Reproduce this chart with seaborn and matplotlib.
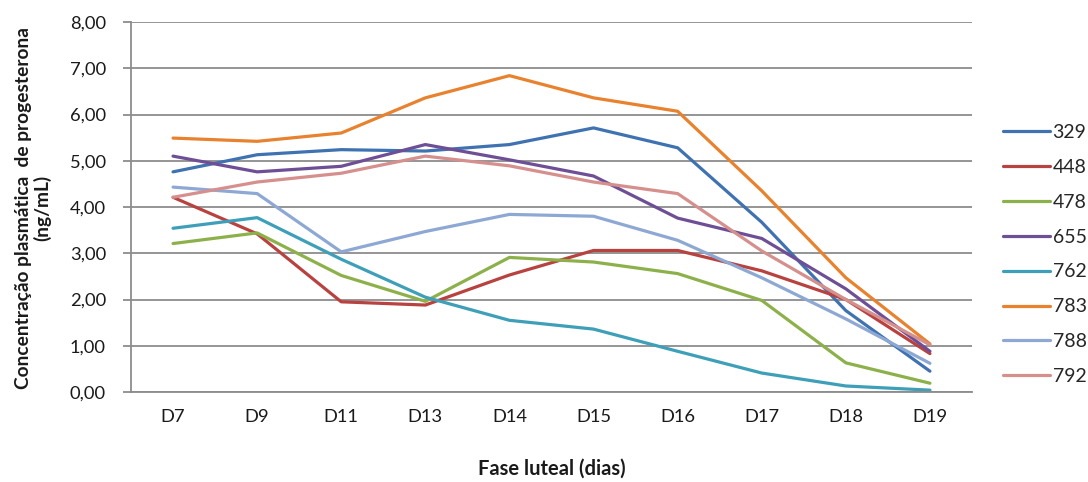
import matplotlib
matplotlib.use("Agg")
import matplotlib.pyplot as plt
from matplotlib.ticker import FuncFormatter, FixedLocator
import seaborn as sns
import pandas as pd

# Luteal-phase sampling days
days = ["D7", "D9", "D11", "D13", "D14", "D15", "D16", "D17", "D18", "D19"]

# Plasma progesterone (ng/mL) per animal
s329 = [4.76, 5.13, 5.24, 5.21, 5.35, 5.71, 5.28, 3.67, 1.76, 0.45]
s448 = [4.21, 3.42, 1.95, 1.88, 2.53, 3.06, 3.06, 2.62, 2.00, 0.83]
s478 = [3.21, 3.44, 2.52, 1.96, 2.91, 2.81, 2.56, 1.98, 0.63, 0.19]
s655 = [5.10, 4.76, 4.88, 5.35, 5.02, 4.67, 3.76, 3.32, 2.23, 0.88]
s762 = [3.54, 3.77, 2.87, 2.05, 1.55, 1.36, 0.88, 0.41, 0.13, 0.04]
s783 = [5.49, 5.42, 5.60, 6.36, 6.84, 6.36, 6.07, 4.35, 2.47, 1.04]
s788 = [4.43, 4.29, 3.03, 3.47, 3.84, 3.80, 3.28, 2.47, 1.58, 0.62]
s792 = [4.21, 4.54, 4.73, 5.10, 4.89, 4.54, 4.29, 3.05, 2.00, 1.02]

animals = ["329", "448", "478", "655", "762", "783", "788", "792"]
series = [s329, s448, s478, s655, s762, s783, s788, s792]
colors = ["#3F72B0", "#B8423F", "#8DB14A", "#6E4F96", "#3E9FB8",
          "#E8822E", "#8EA8D4", "#D58F8D"]

yticks = [0, 1, 2, 3, 4, 5, 6, 7, 8]

df = pd.DataFrame({
    "dia": days * len(animals),
    "animal": [a for a in animals for _ in days],
    "p4": [v for s in series for v in s],
})

sns.set_theme(style="white")
plt.rcParams["font.family"] = ["Lato", "DejaVu Sans"]

fig = plt.figure(figsize=(10.88, 4.82), dpi=100)
ax = fig.add_axes([131 / 1088, 1 - 392 / 482, 841 / 1088, 370 / 482])

sns.lineplot(data=df, x="dia", y="p4", hue="animal", hue_order=animals,
             palette=colors, linewidth=2.3, sort=False, ax=ax, legend=True)

grid_c = "#8C8C8C"
ax.set_ylim(0, 8)
ax.set_xlim(-0.5, len(days) - 0.5)
ax.yaxis.set_major_locator(FixedLocator(yticks))
ax.yaxis.set_major_formatter(FuncFormatter(lambda v, p: f"{v:.2f}".replace(".", ",")))
ax.grid(axis="y", color=grid_c, linewidth=1.3)
ax.set_axisbelow(True)

for side in ["top", "right"]:
    ax.spines[side].set_visible(False)
for side in ["left", "bottom"]:
    ax.spines[side].set_color(grid_c)
    ax.spines[side].set_linewidth(1.3)

# Category boundaries carry the x tick marks
ax.set_xticks(range(len(days)))
ax.set_xticklabels(days)
ax.set_xticks([i - 0.5 for i in range(len(days) + 1)], minor=True)
ax.tick_params(axis="x", which="major", length=0, pad=12, labelsize=13.2, labelcolor="#1a1a1a")
ax.tick_params(axis="x", which="minor", length=5, width=1.3, color=grid_c, direction="out")
ax.tick_params(axis="y", which="major", length=6, width=1.3, color=grid_c, direction="out",
               pad=12, labelsize=13.2, labelcolor="#1a1a1a", left=True)

ax.set_xlabel("Fase luteal (dias)", fontsize=14.5, fontweight="bold", color="#1a1a1a")
ax.xaxis.set_label_coords(0.5, -0.18)
ax.set_ylabel("")
fig.text(33 / 1088, 1 - 208 / 482, "Concentração plasmática  de progesterona\n(ng/mL)",
         rotation=90, ha="center", va="center", multialignment="center",
         fontsize=13.8, fontweight="bold", color="#1a1a1a", linespacing=1.05)

handles, labels = ax.get_legend_handles_labels()
ax.legend(handles, labels, loc="center left", bbox_to_anchor=(1003 / 1088, 1 - 254.5 / 482),
          bbox_transform=fig.transFigure, frameon=False, fontsize=14,
          handlelength=2.4, handletextpad=0.15, labelspacing=0.92, borderpad=0,
          borderaxespad=0)

fig.savefig("out.png", dpi=100)
